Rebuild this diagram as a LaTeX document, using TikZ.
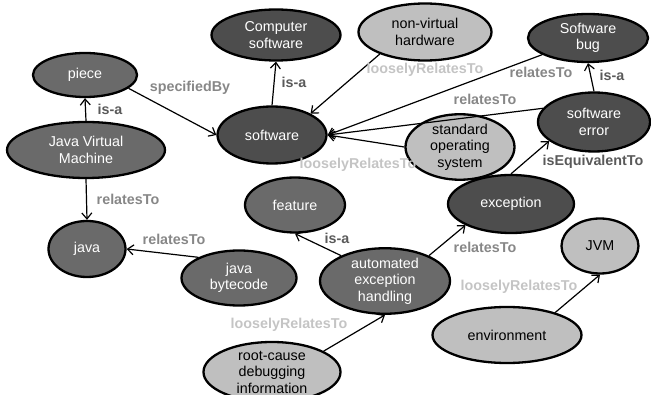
\documentclass[tikz,border=0pt]{standalone}
\usepackage{fontspec}
\setmainfont{Liberation Sans}
\usetikzlibrary{shapes.geometric,arrows.meta}

\definecolor{darkgr}{HTML}{4D4D4D}
\definecolor{midgr}{HTML}{6A6A6A}
\definecolor{lightgr}{HTML}{BFBFBF}
\definecolor{isacol}{HTML}{5A5A5A}
\definecolor{relcol}{HTML}{878787}
\definecolor{loosecol}{HTML}{C4C4C4}

\begin{document}
\begin{tikzpicture}[x=1pt, y=-1pt,
  concept/.style={ellipse, draw=black, line width=2.3pt, inner sep=0pt, align=center,
    font=\fontsize{14.3}{16.5}\selectfont},
  darkc/.style={concept, fill=darkgr, text=white},
  midc/.style={concept, fill=midgr, text=white},
  lightc/.style={concept, fill=lightgr, text=black},
  link/.style={line width=1.2pt, -{Straight Barb[length=6pt,width=10pt]}},
  rel/.style={inner sep=0pt, font=\bfseries\fontsize{14.3}{16}\selectfont}]
\useasboundingbox (0,0) rectangle (651,395);

% 节点
\node[midc, minimum width=104pt, minimum height=44pt] (piece) at (85,75) {piece};
\node[darkc, minimum width=129pt, minimum height=51pt] (compsw) at (276,35) {Computer\\software};
\node[lightc, minimum width=133pt, minimum height=57pt] (hardware) at (425,32) {non-virtual\\hardware};
\node[darkc, minimum width=120pt, minimum height=48pt] (bug) at (588,38) {Software\\bug};
\node[darkc, minimum width=109pt, minimum height=57pt] (software) at (272,135) {software};
\node[lightc, minimum width=109pt, minimum height=57pt] (opsys) at (460,147) {standard\\operating\\system};
\node[darkc, minimum width=112pt, minimum height=59pt] (swerror) at (594,122) {software\\error};
\node[midc, minimum width=158pt, minimum height=56pt] (jvmachine) at (86,150) {Java Virtual\\Machine};
\node[midc, minimum width=100pt, minimum height=55pt] (feature) at (295,205) {feature};
\node[darkc, minimum width=126pt, minimum height=58pt] (exception) at (511,204) {exception};
\node[midc, minimum width=77pt, minimum height=56pt] (java) at (87,249) {java};
\node[midc, minimum width=115pt, minimum height=55pt] (bytecode) at (239,278) {java\\bytecode};
\node[midc, minimum width=130pt, minimum height=65pt] (autoexc) at (385,281) {automated\\exception\\handling};
\node[lightc, minimum width=77pt, minimum height=55pt] (jvm) at (600,246) {JVM};
\node[lightc, minimum width=149pt, minimum height=56pt] (environment) at (507,335) {environment};
\node[lightc, minimum width=137pt, minimum height=60pt] (rootcause) at (272,372) {root-cause\\debugging\\information};

% 连线
\draw[link] (jvmachine.north) -- (piece.south);
\draw[link] (piece.-17) -- (software.west);
\draw[link] (software.north) -- (compsw.south);
\draw[link] (hardware.206) -- (software.29);
\draw[link] (bug.200) -- (software.east);
\draw[link] (swerror.165) -- (software.east);
\draw[link] (opsys.west) -- (software.east);
\draw[link] (swerror.north) -- (bug.south);
\draw[link] (exception.north) -- (swerror.203);
\draw[link] (jvmachine.south) -- (java.north);
\draw[link] (bytecode.153) -- (java.east);
\draw[link] (autoexc.150) -- (feature.south);
\draw[link] (autoexc.30) -- (exception.205);
\draw[link] (rootcause.22) -- (autoexc.south);
\draw[link] (environment.25) -- (jvm.south);

% 标签
\node[rel, text=isacol] (isaA) at (110,109) {is-a};
\node[rel, text=relcol] (specby) at (190,88) {specifiedBy};
\node[rel, text=isacol] (isaB) at (294,82) {is-a};
\node[rel, text=loosecol] (looseA) at (425,70) {looselyRelatesTo};
\node[rel, text=relcol] (relA) at (541,72) {relatesTo};
\node[rel, text=relcol] (relB) at (485,99) {relatesTo};
\node[rel, text=loosecol] (looseB) at (358,165) {looselyRelatesTo};
\node[rel, text=isacol] (isaC) at (612,75) {is-a};
\node[rel, text=isacol] (equiv) at (593,162) {isEquivalentTo};
\node[rel, text=relcol] (relC) at (128,199) {relatesTo};
\node[rel, text=relcol] (relD) at (174,239) {relatesTo};
\node[rel, text=isacol] (isaD) at (337,238) {is-a};
\node[rel, text=relcol] (relE) at (485,247) {relatesTo};
\node[rel, text=loosecol] (looseC) at (289,325) {looselyRelatesTo};
\node[rel, text=loosecol] (looseD) at (519,287) {looselyRelatesTo};
\end{tikzpicture}
\end{document}
